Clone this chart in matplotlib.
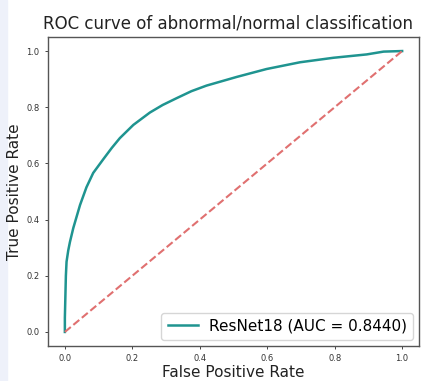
import matplotlib
matplotlib.use('Agg')
import matplotlib.pyplot as plt
from matplotlib.patches import Rectangle

# ROC曲線の読み取り値
fpr = [0.0, 0.0, 0.0015, 0.003, 0.005, 0.01, 0.015, 0.025, 0.045, 0.064, 0.084,
       0.114, 0.139, 0.163, 0.203, 0.252, 0.29, 0.331, 0.375, 0.42, 0.51, 0.598,
       0.697, 0.796, 0.895, 0.945, 1.0]
tpr = [0.0, 0.05, 0.125, 0.2, 0.25, 0.29, 0.32, 0.37, 0.452, 0.515, 0.566,
       0.615, 0.655, 0.69, 0.737, 0.781, 0.808, 0.832, 0.857, 0.877, 0.908,
       0.936, 0.960, 0.976, 0.988, 0.998, 1.0]
diag = [0.0, 1.0]
label = 'ResNet18 (AUC = 0.8440)'
ticks = [0.0, 0.2, 0.4, 0.6, 0.8, 1.0]

fig = plt.figure(figsize=(4.23, 3.81), dpi=100)
# 左端の薄い帯
fig.patches.append(Rectangle((0, 0), 7 / 423, 1, transform=fig.transFigure,
                             color='#eef1fa', zorder=-1))
ax = fig.add_axes([48 / 423, 35 / 381, 371 / 423, 309 / 381])

ax.plot(fpr, tpr, color='#1f9490', lw=1.8, label=label)
ax.plot(diag, diag, color='#e07070', lw=1.5, ls='--')

ax.set_xlim(-0.05, 1.05)
ax.set_ylim(-0.05, 1.05)
ax.set_xticks(ticks)
ax.set_yticks(ticks)
ax.tick_params(labelsize=6, length=2.5, width=0.7, colors='#444444', labelcolor='#333333')
for s in ax.spines.values():
    s.set_color('#555555')
    s.set_linewidth(1.0)

ax.set_xlabel('False Positive Rate', fontsize=11, color='#222222', labelpad=1)
ax.set_ylabel('True Positive Rate', fontsize=11, color='#222222', labelpad=3)
ax.set_title('ROC curve of abnormal/normal classification', fontsize=12, color='#222222',
             pad=6, x=0.485)
ax.legend(loc='lower right', fontsize=11, handlelength=2.0, borderaxespad=0.4,
          handletextpad=0.7)

fig.savefig('out.png', dpi=100)
